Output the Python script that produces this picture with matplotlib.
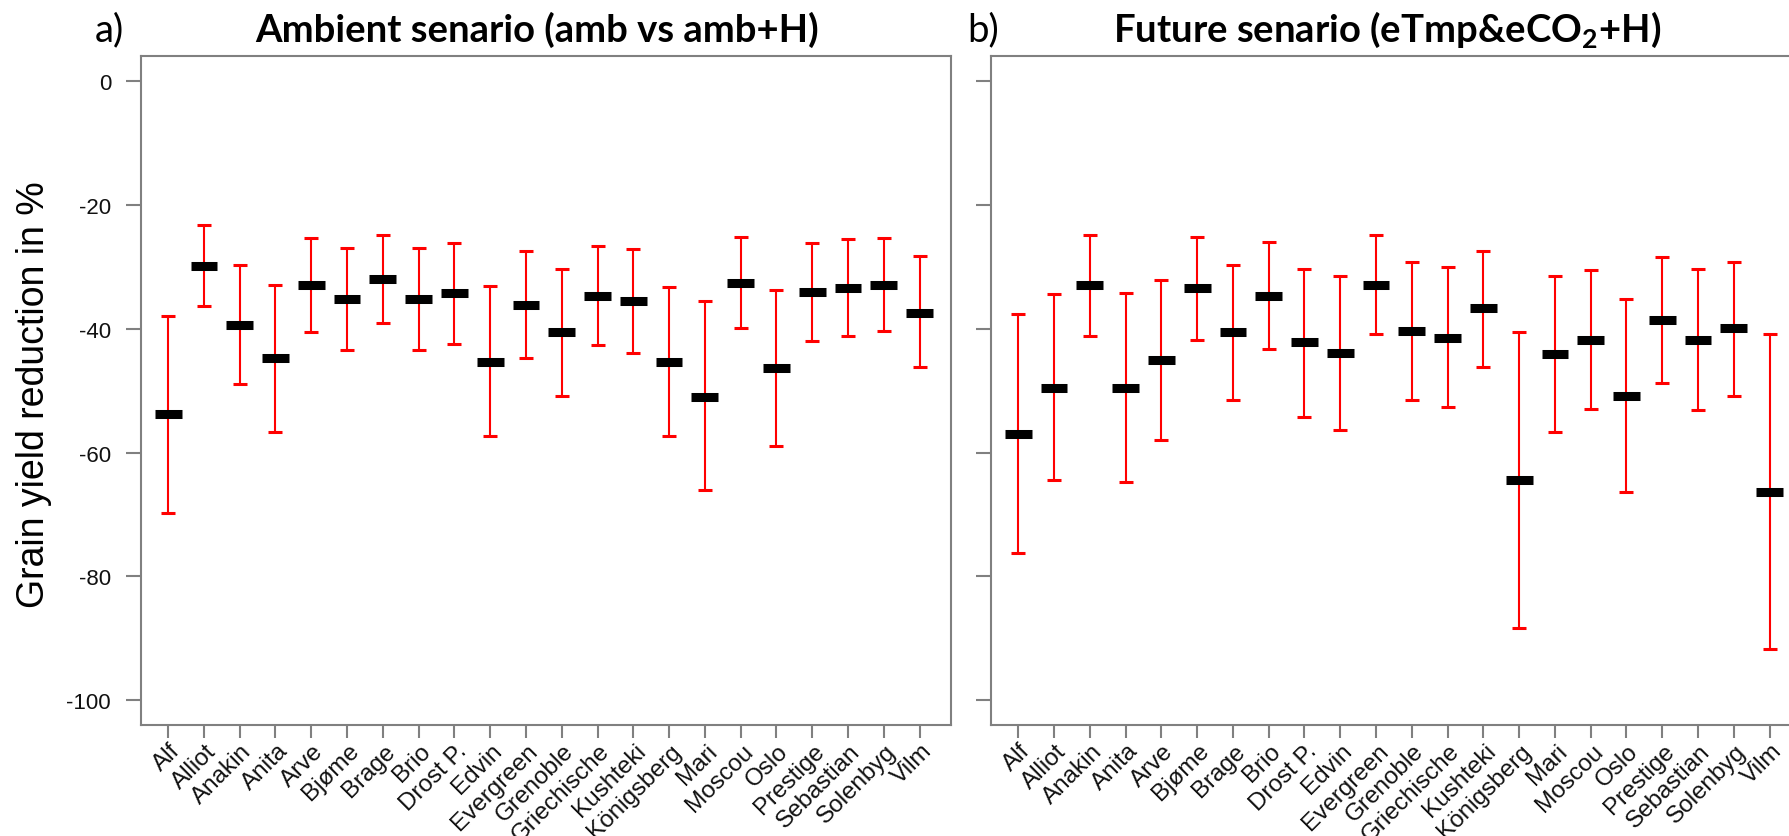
import numpy as np
import matplotlib.pyplot as plt
from matplotlib.transforms import ScaledTranslation

plt.rcParams['font.family'] = ['Liberation Sans', 'DejaVu Sans']
plt.rcParams['axes.unicode_minus'] = False
plt.rcParams['mathtext.fontset'] = 'custom'
plt.rcParams['mathtext.rm'] = 'Lato:bold'
plt.rcParams['mathtext.bf'] = 'Lato:bold'

cultivars = ['Alf', 'Alliot', 'Anakin', 'Anita', 'Arve', 'Bjøme', 'Brage', 'Brio',
             'Drost P.', 'Edvin', 'Evergreen', 'Grenoble', 'Griechische', 'Kushteki',
             'Königsberg', 'Mari', 'Moscou', 'Oslo', 'Prestige', 'Sebastian',
             'Solenbyg', 'Vilm']

# ambient: amb vs amb+H
amb_mean = [-53.8, -29.9, -39.4, -44.7, -33.0, -35.2, -32.0, -35.2, -34.3, -45.3, -36.2,
            -40.5, -34.7, -35.6, -45.3, -51.0, -32.6, -46.4, -34.1, -33.4, -33.0, -37.4]
amb_upper = [-37.9, -23.3, -29.7, -32.9, -25.4, -26.9, -24.8, -26.9, -26.1, -33.1, -27.5,
             -30.3, -26.7, -27.1, -33.3, -35.6, -25.2, -33.8, -26.1, -25.5, -25.3, -28.2]
amb_lower = [-69.7, -36.3, -49.0, -56.7, -40.5, -43.4, -39.1, -43.4, -42.4, -57.3, -44.7,
             -50.9, -42.6, -43.9, -57.4, -66.1, -39.9, -58.9, -42.0, -41.1, -40.3, -46.2]

# future: eTmp&eCO2+H
fut_mean = [-57.0, -49.5, -33.0, -49.6, -45.0, -33.5, -40.5, -34.7, -42.2, -43.9, -33.0,
            -40.3, -41.5, -36.7, -64.4, -44.1, -41.8, -50.8, -38.6, -41.8, -39.9, -66.3]
fut_upper = [-37.6, -34.4, -24.8, -34.3, -32.1, -25.2, -29.7, -26.0, -30.3, -31.5, -24.8,
             -29.3, -30.0, -27.5, -40.5, -31.5, -30.5, -35.2, -28.4, -30.3, -29.3, -40.9]
fut_lower = [-76.3, -64.4, -41.1, -64.8, -57.9, -41.8, -51.5, -43.3, -54.3, -56.3, -40.9,
             -51.5, -52.7, -46.2, -88.3, -56.7, -53.0, -66.3, -48.8, -53.1, -50.8, -91.7]

y_ticks = [0, -20, -40, -60, -80, -100]

frame_grey = '#808080'
W, H, DPI = 1789, 837, 100


def draw_panel(ax, mean, upper, lower, show_ylabels):
    x = np.arange(1, len(cultivars) + 1)
    mean = np.array(mean)
    yerr = [mean - np.array(lower), np.array(upper) - mean]
    ax.errorbar(x, mean, yerr=yerr, fmt='none', ecolor='red', elinewidth=1.5,
                capsize=4.7, capthick=2.2, zorder=2)
    bars = ax.hlines(mean, x - 0.375, x + 0.375, colors='black', lw=6.5, zorder=3)
    bars.set_capstyle('butt')

    ax.set_xlim(0.23, 22.88)
    ax.set_ylim(-104, 4)
    for sp in ax.spines.values():
        sp.set_color(frame_grey)
        sp.set_linewidth(1.5)

    ax.set_yticks(y_ticks)
    ax.tick_params(axis='y', length=10.8, width=1.5, color=frame_grey, pad=10.5,
                   labelsize=16, labelcolor='#111111', labelleft=show_ylabels)
    ax.set_xticks(x)
    ax.set_xticklabels(cultivars, rotation=45, ha='right', va='top',
                       rotation_mode='anchor', fontsize=17.5, color='#111111')
    ax.tick_params(axis='x', length=9.4, width=1.5, color=frame_grey, pad=1)
    shift = ScaledTranslation(1 / DPI, 0, ax.figure.dpi_scale_trans)
    for lab in ax.get_xticklabels():
        lab.set_transform(lab.get_transform() + shift)


fig = plt.figure(figsize=(W / DPI, H / DPI), dpi=DPI)
ax1 = fig.add_axes([140.6 / W, 111 / H, 810.4 / W, 668.7 / H])
ax2 = fig.add_axes([990.7 / W, 111 / H, 810.4 / W, 668.7 / H])

draw_panel(ax1, amb_mean, amb_upper, amb_lower, True)
draw_panel(ax2, fut_mean, fut_upper, fut_lower, False)

title_y = 1 - 41.7 / H
fig.text(95 / W, title_y, 'a)', fontsize=27.5, family='Lato', va='baseline', ha='left')
fig.text(967 / W, title_y, 'b)', fontsize=27.5, family='Lato', va='baseline', ha='left')
fig.text(537 / W, title_y, 'Ambient senario (amb vs amb+H)', fontsize=27.5,
         family='Lato', weight='bold', va='baseline', ha='center')
fig.text(1387 / W, title_y, 'Future senario (eTmp&eCO$_2$+H)', fontsize=27.5,
         family='Lato', weight='bold', va='baseline', ha='center')

fig.text(34 / W, 1 - 395 / H, 'Grain yield reduction in %', fontsize=27,
         rotation=90, ha='center', va='center')

fig.savefig('out.png', dpi=DPI)
